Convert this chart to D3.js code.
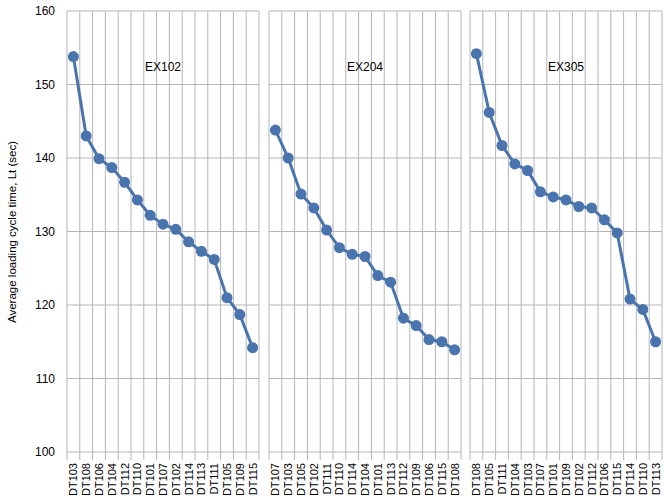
<!DOCTYPE html><html><head><meta charset="utf-8"><script src="https://cdn.jsdelivr.net/npm/d3@7"></script>
<style>body{margin:0;background:#fff}text{font-family:"Liberation Sans",Arial,sans-serif}</style></head><body><svg id="c" width="664" height="502"></svg><script>
const panelNames=["EX102","EX204","EX305"];
const cats1=["DT103","DT108","DT106","DT104","DT112","DT110","DT101","DT107","DT102","DT114","DT113","DT111","DT105","DT109","DT115"];
const vals1=[153.8,143,139.9,138.7,136.7,134.3,132.2,131,130.3,128.6,127.3,126.2,121,118.7,114.2];
const cats2=["DT107","DT103","DT105","DT102","DT111","DT110","DT114","DT104","DT101","DT113","DT112","DT109","DT106","DT115","DT108"];
const vals2=[143.8,140,135.1,133.2,130.2,127.8,126.9,126.6,124,123.1,118.2,117.2,115.3,115,113.9];
const cats3=["DT108","DT105","DT111","DT104","DT103","DT107","DT101","DT109","DT102","DT112","DT106","DT115","DT114","DT110","DT113"];
const vals3=[154.2,146.2,141.7,139.2,138.3,135.4,134.7,134.3,133.4,133.2,131.6,129.8,120.8,119.4,115];
const yTicks=[100,110,120,130,140,150,160];
const panels=[[cats1,vals1],[cats2,vals2],[cats3,vals3]];
const svg=d3.select("#c");
const y=d3.scaleLinear().domain([100,160]).range([452,11]);
const lefts=[67,269,470],pw=192;
const col="#4a74ad",grid="#b5b5b5";
svg.append("g").selectAll("text").data(yTicks).join("text").attr("x",55).attr("y",d=>y(d)+4).attr("text-anchor","end").attr("font-size",12).text(d=>d);
svg.append("text").attr("transform","translate(16,232) rotate(-90)").attr("text-anchor","middle").attr("font-size",11.5).text("Average loading cycle time, Lt (sec)");
panels.forEach(([cats,vals],i)=>{
 const x=d3.scaleBand().domain(cats).range([lefts[i],lefts[i]+pw]);
 const g=svg.append("g");
 g.selectAll(".h").data(yTicks).join("line").attr("x1",lefts[i]).attr("x2",lefts[i]+pw).attr("y1",d=>y(d)).attr("y2",d=>y(d)).attr("stroke",grid);
 const bounds=cats.map(c=>x(c)).concat([lefts[i]+pw]);
 g.selectAll(".v").data(bounds).join("line").attr("x1",d=>d).attr("x2",d=>d).attr("y1",11).attr("y2",460).attr("stroke",grid);
 g.append("text").attr("x",lefts[i]+pw/2).attr("y",71).attr("text-anchor","middle").attr("font-size",12).text(panelNames[i]);
 const cx=c=>x(c)+x.bandwidth()/2;
 g.append("path").datum(cats.map((c,j)=>[cx(c),y(vals[j])])).attr("d",d3.line()).attr("fill","none").attr("stroke",col).attr("stroke-width",3);
 g.selectAll("circle").data(cats).join("circle").attr("cx",cx).attr("cy",(c,j)=>y(vals[j])).attr("r",5.5).attr("fill",col);
 g.selectAll(".l").data(cats).join("text").attr("transform",c=>`translate(${cx(c)+4},${463}) rotate(-90)`).attr("text-anchor","end").attr("font-size",11).text(c=>c);
});
</script></body></html>
